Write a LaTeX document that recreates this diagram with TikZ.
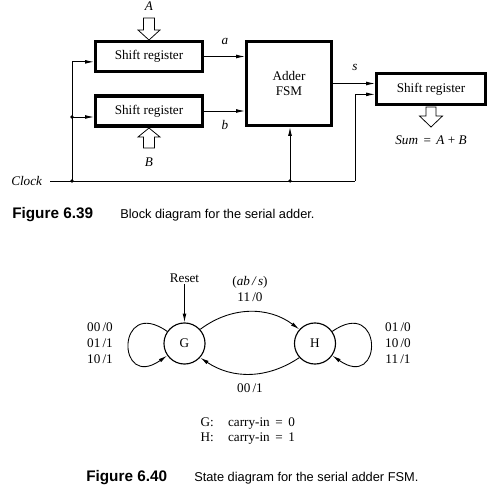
\documentclass[tikz,border=0pt]{standalone}
\usepackage{fontspec}
\setmainfont{Liberation Serif}
\newfontfamily\capfont{Liberation Sans}
\usetikzlibrary{arrows.meta, positioning}

\begin{document}
\begin{tikzpicture}[
  x=0.028cm, y=-0.028cm,
  font=\fontsize{10.5}{12.5}\selectfont,
  shreg/.style={draw, line width=2.4pt, minimum width=3.0cm, minimum height=0.84cm, inner sep=0pt},
  fsmbox/.style={draw, line width=2.4pt, minimum width=2.38cm, minimum height=2.35cm, align=center, inner sep=0pt},
  state/.style={draw, circle, line width=0.9pt, minimum size=1.15cm, inner sep=0pt},
  arr/.style={-{Latex[length=7pt,width=3pt]}, line width=0.7pt},
  wire/.style={line width=0.7pt},
  hollow/.style={draw, fill=white, line width=0.6pt, line join=miter},
  lbl/.style={inner sep=1pt},
  capb/.style={anchor=west, font=\capfont\bfseries\fontsize{12.2}{14}\selectfont, inner sep=0pt},
  capt/.style={anchor=west, font=\capfont\fontsize{10.2}{12}\selectfont, inner sep=0pt}
]
\useasboundingbox (0,0) rectangle (500,487);

% block diagram of the serial adder
\node[shreg] (shA) at (149,56.5) {Shift register};
\node[shreg] (shB) at (149,111) {Shift register};
\node[fsmbox] (adder) at (289,83.5) {Adder\\FSM};
\node[shreg, minimum width=3.05cm, minimum height=0.87cm] (sumreg) at (431,89) {Shift register};

\node[lbl] (inA) at (149,6) {\textit{A}};
\node[lbl] (inB) at (149,162) {\textit{B}};
\node[lbl] (la) at (225,41) {\textit{a}};
\node[lbl] (lb) at (225,125) {\textit{b}};
\node[lbl] (ls) at (355,67) {\textit{s}};
\node[lbl] (sum) at (431,140) {\textit{Sum} \,=\, \textit{A} + \textit{B}};
\node[lbl, anchor=east, inner xsep=6pt] (clk) at (50,181) {\textit{Clock}};

% hollow data arrows
\draw[hollow] (143.5,18) -- (154.5,18) -- (154.5,30) -- (160,30) -- (149,40)
  -- (138,30) -- (143.5,30) -- cycle;
\draw[hollow] (143.5,148) -- (154.5,148) -- (154.5,137) -- (160,137) -- (149,128)
  -- (138,137) -- (143.5,137) -- cycle;
\draw[hollow] (426,107) -- (436,107) -- (436,116) -- (442.5,116) -- (431,127)
  -- (419.5,116) -- (426,116) -- cycle;

% data paths
\draw[arr] (shA.east) -- (shA.east -| adder.west);
\draw[arr] (shB.east) -- (shB.east -| adder.west);
\draw[arr] (adder.east) -- (adder.east -| sumreg.west);

% clock distribution
\coordinate (c1) at (72,181);
\coordinate (c2) at (290,181);
\coordinate (c3) at (355,181);
\coordinate (cb) at (72,117);
\draw[wire] (clk.east) -- (c3);
\draw[arr] (c1) |- ([yshift=-0.15cm]shA.west);
\draw[arr] (cb) -- (cb -| shB.west);
\draw[arr] (c2) -- (c2 |- adder.south);
\draw[arr] (c3) |- ([yshift=-0.15cm]sumreg.west);
\foreach \p in {c1,c2,cb}
  \fill (\p) circle (1.4pt);

\node[capb] (cap1) at (12,215) {Figure 6.39};
\node[capt] (txt1) at (120,215) {Block diagram for the serial adder.};

% state diagram of the adder FSM
\node[state] (G) at (184.5,343.5) {G};
\node[state] (H) at (315,343.5) {H};
\node[lbl] (reset) at (184.5,278) {Reset};
\draw[arr] (reset.south) -- (G.north);

\draw[arr] (G.145) .. controls +(145:1.75cm) and +(215:1.75cm) .. (G.215);
\draw[arr] (H.35) .. controls +(35:1.75cm) and +(-35:1.75cm) .. (H.-35);
\draw[arr] (G.42) to[bend left=37] (H.138);
\draw[arr] (H.222) to[bend left=34] (G.-42);

\node[lbl, align=center] (top) at (250,289) {(\textit{ab\,/\,s})\\11\,/0};
\node[lbl] (bot) at (250,388) {00\,/1};
\node[lbl, align=center] (selfG) at (100,343) {00\,/0\\01\,/1\\10\,/1};
\node[lbl, align=center] (selfH) at (398,343) {01\,/0\\10\,/0\\11\,/1};

\node[lbl, anchor=west, align=left] (legend) at (199,431)
  {\makebox[22pt][l]{G:}carry-in \,=\, 0\\\makebox[22pt][l]{H:}carry-in \,=\, 1};

\node[capb] (cap2) at (86,478) {Figure 6.40};
\node[capt] (txt2) at (194,478) {State diagram for the serial adder FSM.};
\end{tikzpicture}
\end{document}
